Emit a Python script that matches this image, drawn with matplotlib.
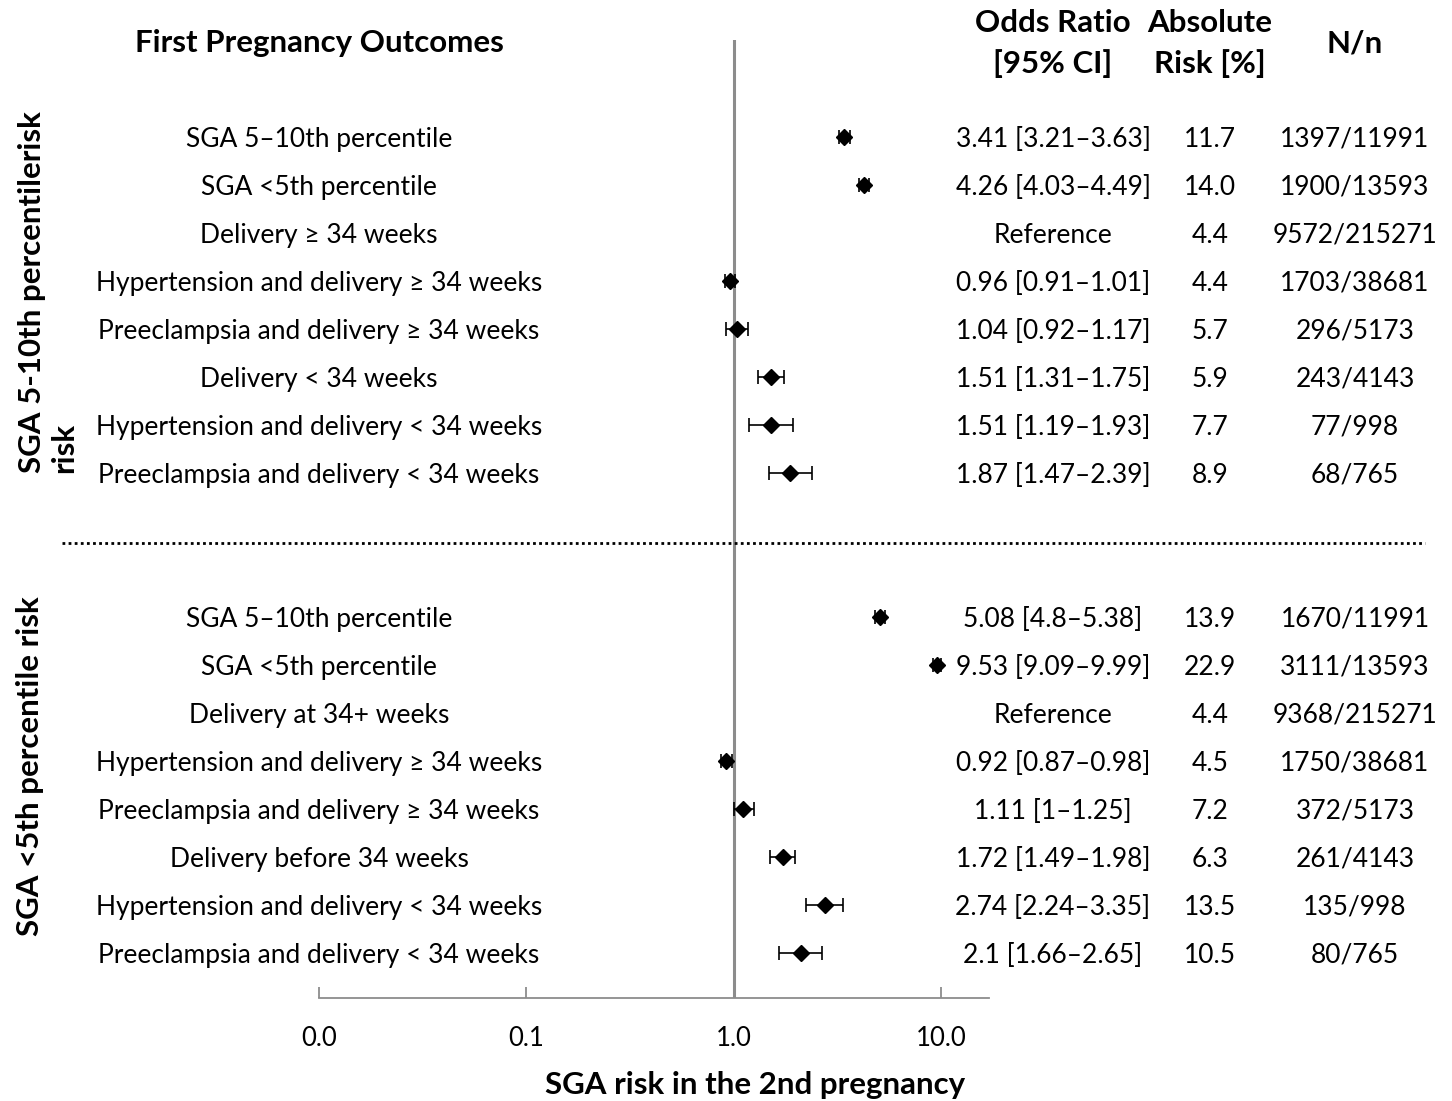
import numpy as np
import matplotlib.pyplot as plt
from matplotlib.transforms import blended_transform_factory

plt.rcParams['font.family'] = ['Lato', 'DejaVu Sans']

# First pregnancy outcomes (same rows in both panels)
outcomes_top = [
    "SGA 5\u201310th percentile",
    "SGA <5th percentile",
    "Delivery \u2265 34 weeks",
    "Hypertension and delivery \u2265 34 weeks",
    "Preeclampsia and delivery \u2265 34 weeks",
    "Delivery < 34 weeks",
    "Hypertension and delivery < 34 weeks",
    "Preeclampsia and delivery < 34 weeks",
]
outcomes_bottom = [
    "SGA 5\u201310th percentile",
    "SGA <5th percentile",
    "Delivery at 34+ weeks",
    "Hypertension and delivery \u2265 34 weeks",
    "Preeclampsia and delivery \u2265 34 weeks",
    "Delivery before 34 weeks",
    "Hypertension and delivery < 34 weeks",
    "Preeclampsia and delivery < 34 weeks",
]

# SGA 5-10th percentile risk in 2nd pregnancy (None = reference)
or_top = [3.41, 4.26, None, 0.96, 1.04, 1.51, 1.51, 1.87]
lo_top = [3.21, 4.03, None, 0.91, 0.92, 1.31, 1.19, 1.47]
hi_top = [3.63, 4.49, None, 1.01, 1.17, 1.75, 1.93, 2.39]
risk_top = [11.7, 14.0, 4.4, 4.4, 5.7, 5.9, 7.7, 8.9]
n_top = ["1397/11991", "1900/13593", "9572/215271", "1703/38681",
         "296/5173", "243/4143", "77/998", "68/765"]

# SGA <5th percentile risk in 2nd pregnancy
or_bottom = [5.08, 9.53, None, 0.92, 1.11, 1.72, 2.74, 2.1]
lo_bottom = [4.8, 9.09, None, 0.87, 1.0, 1.49, 2.24, 1.66]
hi_bottom = [5.38, 9.99, None, 0.98, 1.25, 1.98, 3.35, 2.65]
risk_bottom = [13.9, 22.9, 4.4, 4.5, 7.2, 6.3, 13.5, 10.5]
n_bottom = ["1670/11991", "3111/13593", "9368/215271", "1750/38681",
            "372/5173", "261/4143", "135/998", "80/765"]

x_ticks = [0.01, 0.1, 1.0, 10.0]
x_ticklabels = ["0.0", "0.1", "1.0", "10.0"]

W, H = 1452, 1101
fig = plt.figure(figsize=(W / 100, H / 100), dpi=100)
ax = fig.add_axes([319 / W, 1 - 998 / H, (989 - 319) / W, (998 - 40) / H])
ax.set_xscale("log")
ax.set_xlim(0.01, 17)
ax.set_ylim(17.94, -2.02)

fs = 19      # body text
fs_b = 22.5  # bold headers
gray = "#8c8c8c"
trans = blended_transform_factory(fig.transFigure, ax.transData)

rows_top = np.arange(8)
rows_bottom = np.arange(8) + 10
dy = 0.05  # small nudge so text centres sit on the marker rows

for rows, labels, ors, los, his, risks, ns in [
        (rows_top, outcomes_top, or_top, lo_top, hi_top, risk_top, n_top),
        (rows_bottom, outcomes_bottom, or_bottom, lo_bottom, hi_bottom, risk_bottom, n_bottom)]:
    for y, lab, o, lo, hi, r, n in zip(rows, labels, ors, los, his, risks, ns):
        ax.text(319 / W, y + dy, lab, transform=trans, ha="center", va="center", fontsize=fs)
        if o is None:
            or_txt = "Reference"
        else:
            or_txt = f"{o:g} [{lo:g}\u2013{hi:g}]"
            ax.errorbar(o, y, xerr=[[o - lo], [hi - o]], fmt="D", color="black",
                        ms=8, elinewidth=1.2, capsize=5, capthick=1.2, zorder=3)
        ax.text(1053 / W, y + dy, or_txt, transform=trans, ha="center", va="center", fontsize=fs)
        ax.text(1210 / W, y + dy, f"{r:.1f}", transform=trans, ha="center", va="center", fontsize=fs)
        ax.text(1355 / W, y + dy, n, transform=trans, ha="center", va="center", fontsize=fs)

# reference line at OR = 1
ax.axvline(1.0, color=gray, lw=2.2, zorder=1)

# dotted separator between the two panels
ax.plot([62 / W, 1425 / W], [8.46, 8.46], transform=trans, color="black",
        ls=(0, (1, 1.2)), lw=2, clip_on=False)

for s in ["top", "left", "right"]:
    ax.spines[s].set_visible(False)
ax.spines["bottom"].set_color(gray)
ax.spines["bottom"].set_linewidth(1.3)
ax.set_yticks([])
ax.set_xticks(x_ticks)
ax.set_xticklabels(x_ticklabels, fontsize=18.5)
ax.minorticks_off()
ax.tick_params(axis="x", direction="in", length=8, width=1.3, color=gray, pad=20)

# headers
fig.text(319 / W, 1 - 43 / H, "First Pregnancy Outcomes", ha="center", va="center",
         fontsize=fs_b, fontweight="bold")
fig.text(1053 / W, 1 - 23 / H, "Odds Ratio", ha="center", va="center", fontsize=fs_b, fontweight="bold")
fig.text(1053 / W, 1 - 64 / H, "[95% CI]", ha="center", va="center", fontsize=fs_b, fontweight="bold")
fig.text(1210 / W, 1 - 23 / H, "Absolute", ha="center", va="center", fontsize=fs_b, fontweight="bold")
fig.text(1210 / W, 1 - 64 / H, "Risk [%]", ha="center", va="center", fontsize=fs_b, fontweight="bold")
fig.text(1355 / W, 1 - 43 / H, "N/n", ha="center", va="center", fontsize=fs_b, fontweight="bold")

fig.text(755 / W, 1 - 1085 / H, "SGA risk in the 2nd pregnancy", ha="center", va="center",
         fontsize=fs_b, fontweight="bold")

# panel labels
fig.text(48 / W, 1 - 292 / H, "SGA 5-10th percentilerisk\nrisk", rotation=90, ha="center",
         va="center", multialignment="left", fontsize=fs_b, fontweight="bold", linespacing=1.15)
fig.text(30 / W, 1 - 766 / H, "SGA <5th percentile risk", rotation=90, ha="center",
         va="center", fontsize=fs_b, fontweight="bold")

fig.savefig("out.png", dpi=100)
